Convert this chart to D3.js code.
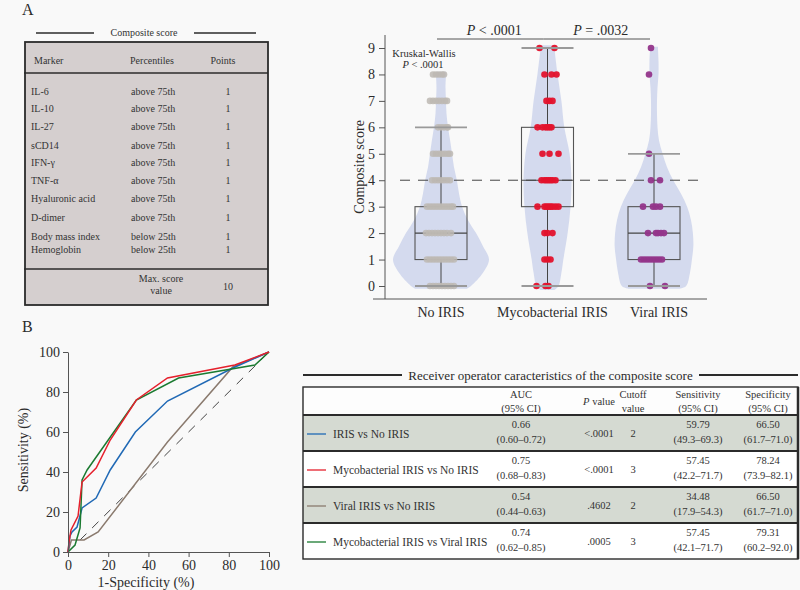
<!DOCTYPE html>
<html><head><meta charset="utf-8">
<script src="https://cdn.jsdelivr.net/npm/d3@7"></script>
<style>body{margin:0;background:#f9f9f9;} svg{display:block;} svg text{font-family:"Liberation Serif","Times New Roman",serif;}</style>
</head><body><svg width="800" height="590" font-family="Liberation Serif"></svg>
<script>
// ---------- DATA ----------
const markers = ["IL-6","IL-10","IL-27","sCD14","IFN-γ","TNF-α","Hyaluronic acid","D-dimer","Body mass index","Hemoglobin"];
const percentiles = ["above 75th","above 75th","above 75th","above 75th","above 75th","above 75th","above 75th","above 75th","below 25th","below 25th"];
const markerPoints = [1,1,1,1,1,1,1,1,1,1];
const maxScore = 10;

const groups = ["No IRIS","Mycobacterial IRIS","Viral IRIS"];
const scoreTicks = [0,1,2,3,4,5,6,7,8,9];
const q1s = [1,3,1];
const medians = [2,4,2];
const q3s = [3,6,3];
const whiskerLow = [0,0,0];
const whiskerHigh = [6,9,5];
const cutoffLine = 4;
// violin densities: [score, relative density]
const densNoIris = [[-0.1,0.54],[0,0.625],[0.5,0.875],[1,1],[1.5,0.875],[2,0.73],[2.5,0.56],[3,0.44],[3.5,0.375],[4,0.33],[4.5,0.27],[5,0.23],[5.5,0.19],[6,0.146],[6.5,0.115],[7,0.104],[7.5,0.094],[8,0.104],[8.1,0.104]];
const densMyco = [[-0.15,0.146],[0,0.23],[0.5,0.29],[1,0.33],[2,0.42],[3,0.48],[4,0.5],[5,0.46],[6,0.35],[7,0.29],[8,0.21],[9,0.146],[9.1,0.146]];
const densViral = [[-0.1,0.54],[0,0.67],[0.5,0.75],[1,0.79],[1.5,0.82],[2,0.81],[2.5,0.77],[3,0.69],[3.5,0.56],[4,0.4],[4.5,0.27],[5,0.18],[5.5,0.104],[6,0.073],[6.5,0.0625],[7,0.0625],[7.5,0.073],[8,0.094],[8.5,0.094],[9,0.083],[9.05,0.083]];
// observations: score -> jitter (relative)
const ptsNoIris = {
  0:[-0.55,-0.4,-0.25,-0.1,0.05,0.2,0.35,0.5,0.65],
  1:[-0.7,-0.55,-0.4,-0.25,-0.1,0.05,0.2,0.35,0.5,0.65],
  2:[-0.75,-0.6,-0.45,-0.3,-0.15,0,0.15,0.3,0.5],
  3:[-0.7,-0.55,-0.4,-0.25,-0.1,0.05,0.2,0.35,0.5,0.6],
  4:[-0.45,-0.3,-0.15,0,0.15,0.3,0.45],
  5:[-0.4,-0.25,-0.1,0.05,0.2,0.35,0.45],
  6:[-0.15,0,0.15,0.3,0.35],
  7:[-0.55,-0.4,-0.25,-0.1,0.05,0.2,0.3],
  8:[-0.4,-0.25,-0.1,0.05,0.15]
};
const ptsMyco = {
  0:[-0.55,-0.1,0.05], 1:[-0.15,0,0.15], 2:[-0.15,0,0.25],
  3:[-0.5,-0.15,-0.05,0.05,0.15,0.25,0.4,0.55],
  4:[-0.3,-0.15,-0.05,0.05,0.15,0.25,0.4],
  5:[-0.25,0.1,0.55], 6:[-0.5,-0.25,-0.1,0,0.1,0.2],
  7:[-0.05,0.1,0.25], 8:[-0.15,0.2,0.45], 9:[-0.4,0.35]
};
const ptsViral = {
  0:[-0.2,0.55], 1:[-0.65,-0.5,-0.35,-0.2,-0.05,0.1,0.25,0.4],
  2:[-0.3,0.1,0.2,0.35,0.5], 3:[-0.55,-0.05,0.1,0.3],
  4:[-0.15,0.3], 5:[-0.25], 8:[-0.25], 9:[-0.15]
};
const brackets = [{from:0,to:1,label:"< .0001"},{from:1,to:2,label:"= .0032"}];

const rocTicks = [0,20,40,60,80,100];
const rocIrisVsNo = [[0,0],[1,8],[2,10],[4.5,12.5],[7,22],[14,27],[21,41],[33.5,60],[49.5,75.5],[82,92],[100,100]];
const rocMycoVsNo = [[0,0],[0.5,5],[1.5,11],[5,18],[7,35],[14,42],[21,56],[34,76],[49.5,87],[83,93.5],[100,100]];
const rocViralVsNo = [[0,0],[1.7,6],[8,6],[15,10],[49.5,55],[82,92.5],[100,100]];
const rocMycoVsViral = [[0,0],[3.5,3.5],[6,12],[7,36],[9.5,41],[34,76],[55,87],[93,93.5],[100,100]];

const comparisons = ["IRIS vs No IRIS","Mycobacterial IRIS vs No IRIS","Viral IRIS vs No IRIS","Mycobacterial IRIS vs Viral IRIS"];
const aucs = ["0.66","0.75","0.54","0.74"];
const aucCIs = ["(0.60–0.72)","(0.68–0.83)","(0.44–0.63)","(0.62–0.85)"];
const pValues = ["<.0001","<.0001",".4602",".0005"];
const cutoffs = ["2","3","2","3"];
const sensitivities = ["59.79","57.45","34.48","57.45"];
const sensCIs = ["(49.3–69.3)","(42.2–71.7)","(17.9–54.3)","(42.1–71.7)"];
const specificities = ["66.50","78.24","66.50","79.31"];
const specCIs = ["(61.7–71.0)","(73.9–82.1)","(61.7–71.0)","(60.2–92.0)"];

// ---------- DRAW ----------
const svg = d3.select("svg");
svg.append("rect").attr("width",800).attr("height",590).attr("fill","#f9f9f9");
const ink = "#2b2b2b";

// Panel labels
svg.append("text").attr("x",22).attr("y",15).attr("font-size",16).attr("fill",ink).text("A");
svg.append("text").attr("x",22).attr("y",332).attr("font-size",16).attr("fill",ink).text("B");

// ---- Panel A table ----
const tA = svg.append("g").attr("font-size",10).attr("fill","#333");
tA.append("line").attr("x1",36).attr("x2",94).attr("y1",33).attr("y2",33).attr("stroke",ink).attr("stroke-width",1.5);
tA.append("line").attr("x1",194).attr("x2",256).attr("y1",33).attr("y2",33).attr("stroke",ink).attr("stroke-width",1.5);
tA.append("text").attr("x",144).attr("y",36).attr("text-anchor","middle").text("Composite score");
tA.append("rect").attr("x",25).attr("y",42).attr("width",243).attr("height",263).attr("fill","#d5cfcf").attr("stroke",ink).attr("stroke-width",1.8);
tA.append("line").attr("x1",24).attr("x2",268).attr("y1",73).attr("y2",73).attr("stroke",ink).attr("stroke-width",1.5);
tA.append("line").attr("x1",24).attr("x2",268).attr("y1",269).attr("y2",269).attr("stroke",ink).attr("stroke-width",1.5);
tA.append("text").attr("x",34).attr("y",64).text("Marker");
tA.append("text").attr("x",152).attr("y",64).attr("text-anchor","middle").text("Percentiles");
tA.append("text").attr("x",223).attr("y",64).attr("text-anchor","middle").text("Points");
const rowY = [91,108,126,145,162,180,198,217,236,249];
markers.forEach((m,i)=>{
  tA.append("text").attr("x",31).attr("y",rowY[i]+3.5).text(m);
  tA.append("text").attr("x",131).attr("y",rowY[i]+3.5).text(percentiles[i]);
  tA.append("text").attr("x",228).attr("y",rowY[i]+3.5).attr("text-anchor","middle").text(markerPoints[i]);
});
tA.append("text").attr("x",161).attr("y",282).attr("text-anchor","middle").text("Max. score");
tA.append("text").attr("x",161).attr("y",294).attr("text-anchor","middle").text("value");
tA.append("text").attr("x",228).attr("y",290).attr("text-anchor","middle").text(maxScore);

// ---- Violin plot ----
const yV = d3.scaleLinear().domain([0,9]).range([286,48]);
const xV = d3.scalePoint().domain(groups).range([441,654]);
const wV = d3.scaleLinear().domain([0,1]).range([0,48]);
const jit = d3.scaleLinear().domain([-1,1]).range([-20,20]);
const boxHalf = 26;
const gV = svg.append("g");
const dens = [densNoIris,densMyco,densViral];
groups.forEach((g,i)=>{
  const cx = xV(g);
  const area = d3.area().curve(d3.curveCatmullRom)
    .y(d=>yV(d[0])).x0(d=>cx - wV(d[1])).x1(d=>cx + wV(d[1]));
  gV.append("path").attr("d",area(dens[i])).attr("fill","#d4daee");
});
// dashed cutoff
gV.append("line").attr("x1",400).attr("x2",706).attr("y1",yV(cutoffLine)).attr("y2",yV(cutoffLine))
  .attr("stroke","#444").attr("stroke-width",1).attr("stroke-dasharray","10,8");
// boxes
groups.forEach((g,i)=>{
  const cx = xV(g);
  gV.append("line").attr("x1",cx).attr("x2",cx).attr("y1",yV(whiskerLow[i])).attr("y2",yV(q1s[i])).attr("stroke","#444");
  gV.append("line").attr("x1",cx).attr("x2",cx).attr("y1",yV(q3s[i])).attr("y2",yV(whiskerHigh[i])).attr("stroke","#444");
  gV.append("rect").attr("x",cx-boxHalf).attr("width",boxHalf*2).attr("y",yV(q3s[i])).attr("height",yV(q1s[i])-yV(q3s[i]))
    .attr("fill","none").attr("stroke","#555").attr("stroke-width",1.1);
  gV.append("line").attr("x1",cx-boxHalf).attr("x2",cx+boxHalf).attr("y1",yV(medians[i])).attr("y2",yV(medians[i])).attr("stroke","#444").attr("stroke-width",1.1);
});
// points
const ptSets = [ptsNoIris,ptsMyco,ptsViral];
const ptCols = ["#bdb8b3","#e3122c","#93358a"];
groups.forEach((g,i)=>{
  const cx = xV(g);
  const arr = [];
  Object.entries(ptSets[i]).forEach(([v,js])=>js.forEach(j=>arr.push([+v,j])));
  gV.selectAll(null).data(arr).enter().append("circle")
    .attr("cx",d=>cx+jit(d[1])).attr("cy",d=>yV(d[0])).attr("r",3.3)
    .attr("fill",ptCols[i]).attr("opacity",i===0?0.85:0.95);
});
// whisker caps (gray)
groups.forEach((g,i)=>{
  const cx = xV(g);
  [whiskerLow[i],whiskerHigh[i]].forEach(v=>{
    gV.append("line").attr("x1",cx-boxHalf).attr("x2",cx+boxHalf).attr("y1",yV(v)).attr("y2",yV(v))
      .attr("stroke","#9a9a9a").attr("stroke-width",1.8);
  });
});
// axes
const yAx = gV.append("g").attr("transform","translate(385,0)")
  .call(d3.axisLeft(yV).tickValues(scoreTicks).tickSize(6).tickPadding(4).tickSizeOuter(0));
yAx.attr("font-family",null);
yAx.select(".domain").attr("d","M0,35V299").attr("stroke","#555");
yAx.selectAll(".tick line").attr("stroke","#555");
yAx.selectAll("text").attr("font-size",14).attr("fill",ink);
gV.append("line").attr("x1",373).attr("x2",707).attr("y1",299).attr("y2",299).attr("stroke","#555");
groups.forEach((g,i)=>{
  gV.append("text").attr("x",xV(g)+(i===0?0:5)).attr("y",317).attr("text-anchor","middle")
    .attr("font-size",14).attr("fill",ink).text(g);
});
gV.append("text").attr("transform","translate(364,167) rotate(-90)").attr("text-anchor","middle")
  .attr("font-size",14).attr("fill",ink).text("Composite score");
// Kruskal-Wallis
gV.append("text").attr("x",424).attr("y",57).attr("text-anchor","middle").attr("font-size",10.5).attr("fill",ink).text("Kruskal-Wallis");
const kw = gV.append("text").attr("x",423).attr("y",68).attr("text-anchor","middle").attr("font-size",10.5).attr("fill",ink);
kw.append("tspan").attr("font-style","italic").text("P");
kw.append("tspan").text(" < .0001");
// brackets
brackets.forEach(b=>{
  const x1 = xV(groups[b.from])-4, x2 = xV(groups[b.to])-4;
  gV.append("line").attr("x1",x1).attr("x2",x2).attr("y1",39).attr("y2",39).attr("stroke","#555");
  const t = gV.append("text").attr("x",(x1+x2)/2+4).attr("y",35).attr("text-anchor","middle").attr("font-size",14).attr("fill",ink);
  t.append("tspan").attr("font-style","italic").text("P");
  t.append("tspan").text(" "+b.label);
});

// ---- ROC plot ----
const xR = d3.scaleLinear().domain([0,100]).range([68,269]);
const yR = d3.scaleLinear().domain([0,100]).range([552,352]);
const gR = svg.append("g");
gR.append("line").attr("x1",xR(0)).attr("y1",yR(0)).attr("x2",xR(100)).attr("y2",yR(100))
  .attr("stroke","#444").attr("stroke-dasharray","9,8");
const line = d3.line().x(d=>xR(d[0])).y(d=>yR(d[1]));
[[rocViralVsNo,"#8a7a6e"],[rocIrisVsNo,"#2069b5"],[rocMycoVsViral,"#1b7a31"],[rocMycoVsNo,"#e5202c"]].forEach(([d,c])=>{
  gR.append("path").attr("d",line(d)).attr("fill","none").attr("stroke",c).attr("stroke-width",1.5);
});
const xAxR = gR.append("g").attr("transform","translate(0,552)").call(d3.axisBottom(xR).tickValues(rocTicks).tickSize(5).tickSizeOuter(0).tickPadding(3));
const yAxR = gR.append("g").attr("transform","translate(68,0)").call(d3.axisLeft(yR).tickValues(rocTicks).tickSize(5).tickSizeOuter(0).tickPadding(3));
[xAxR,yAxR].forEach(a=>{
  a.attr("font-family",null);
  a.select(".domain").attr("stroke","#555");
  a.selectAll(".tick line").attr("stroke","#555");
  a.selectAll("text").attr("font-size",14).attr("fill",ink);
});
gR.append("text").attr("x",146).attr("y",587).attr("text-anchor","middle").attr("font-size",14).attr("fill",ink).text("1-Specificity (%)");
gR.append("text").attr("transform","translate(28,450) rotate(-90)").attr("text-anchor","middle").attr("font-size",14).attr("fill",ink).text("Sensitivity (%)");

// ---- ROC table ----
const gT = svg.append("g").attr("fill","#333");
gT.append("line").attr("x1",303).attr("x2",402).attr("y1",375).attr("y2",375).attr("stroke",ink).attr("stroke-width",1.8);
gT.append("line").attr("x1",699).attr("x2",798).attr("y1",375).attr("y2",375).attr("stroke",ink).attr("stroke-width",1.8);
gT.append("text").attr("x",550.5).attr("y",379.5).attr("text-anchor","middle").attr("font-size",13).attr("fill",ink)
  .text("Receiver operator caracteristics of the composite score");
const rowTop = [415,451,487,523];
const rowH = 36;
const rowFill = ["#d5dad2","#ffffff","#d5dad2","#ffffff"];
const rowCol = ["#2069b5","#e5202c","#8a7a6e","#1b7a31"];
gT.append("rect").attr("x",303).attr("y",387).attr("width",495).attr("height",172).attr("fill","#fdfdfd");
rowTop.forEach((y,i)=>{
  gT.append("rect").attr("x",303).attr("y",y).attr("width",495).attr("height",rowH).attr("fill",rowFill[i]);
});
gT.append("rect").attr("x",303).attr("y",387).attr("width",495).attr("height",172).attr("fill","none").attr("stroke",ink).attr("stroke-width",1.4);
gT.append("line").attr("x1",798).attr("x2",798).attr("y1",387).attr("y2",559).attr("stroke",ink).attr("stroke-width",2.5);
[415,451,487,523].forEach(y=>{
  gT.append("line").attr("x1",303).attr("x2",798).attr("y1",y).attr("y2",y).attr("stroke",ink).attr("stroke-width",1.8);
});
const colX = {auc:521, p:599, cut:633, sens:698, spec:768};
const hdr = gT.append("g").attr("font-size",10.5).attr("text-anchor","middle");
hdr.append("text").attr("x",colX.auc).attr("y",398).text("AUC");
hdr.append("text").attr("x",colX.auc).attr("y",412).text("(95% CI)");
const pv = hdr.append("text").attr("x",colX.p).attr("y",405);
pv.append("tspan").attr("font-style","italic").text("P");
pv.append("tspan").text(" value");
hdr.append("text").attr("x",colX.cut).attr("y",398).text("Cutoff");
hdr.append("text").attr("x",colX.cut).attr("y",412).text("value");
hdr.append("text").attr("x",colX.sens).attr("y",398).text("Sensitivity");
hdr.append("text").attr("x",colX.sens).attr("y",412).text("(95% CI)");
hdr.append("text").attr("x",colX.spec).attr("y",398).text("Specificity");
hdr.append("text").attr("x",colX.spec).attr("y",412).text("(95% CI)");
comparisons.forEach((c,i)=>{
  const cy = rowTop[i]+rowH/2;
  gT.append("line").attr("x1",307).attr("x2",326).attr("y1",cy+1).attr("y2",cy+1).attr("stroke",rowCol[i]).attr("stroke-width",1.3);
  gT.append("text").attr("x",333).attr("y",cy+5).attr("font-size",11.5).text(c);
  const g = gT.append("g").attr("font-size",10.5).attr("text-anchor","middle");
  g.append("text").attr("x",colX.auc).attr("y",cy-5).text(aucs[i]);
  g.append("text").attr("x",colX.auc).attr("y",cy+10).text(aucCIs[i]);
  g.append("text").attr("x",colX.p).attr("y",cy+4).text(pValues[i]);
  g.append("text").attr("x",colX.cut).attr("y",cy+4).text(cutoffs[i]);
  g.append("text").attr("x",colX.sens).attr("y",cy-5).text(sensitivities[i]);
  g.append("text").attr("x",colX.sens).attr("y",cy+10).text(sensCIs[i]);
  g.append("text").attr("x",colX.spec).attr("y",cy-5).text(specificities[i]);
  g.append("text").attr("x",colX.spec).attr("y",cy+10).text(specCIs[i]);
});
</script></body></html>
